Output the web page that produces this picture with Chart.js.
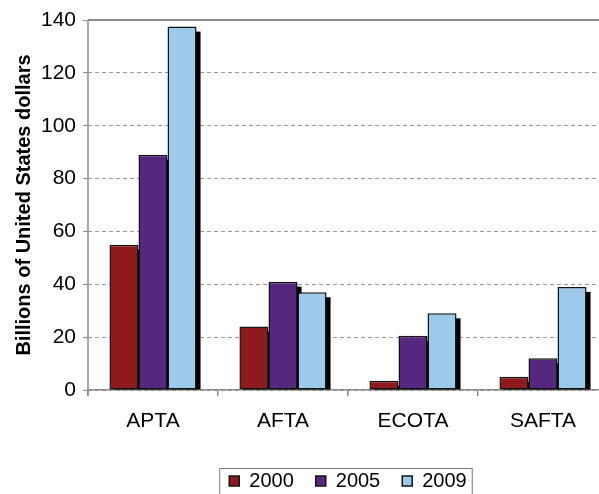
<!DOCTYPE html>
<html>
<head>
<meta charset="utf-8">
<script src="https://cdn.jsdelivr.net/npm/chart.js@4.4.3/dist/chart.umd.min.js"></script>
<style>
  html, body { margin: 0; padding: 0; overflow: hidden; background: #fff; }
  #wrap { position: absolute; left: 0; top: 0; width: 610px; height: 501px; }
</style>
</head>
<body>
<div id="wrap"><canvas id="chart" width="610" height="501"></canvas></div>
<script>
// Trade agreements and years
const categories = ['APTA', 'AFTA', 'ECOTA', 'SAFTA'];
const years = ['2000', '2005', '2009'];

// Billions of US dollars
const values2000 = [55, 24, 3.5, 5];
const values2005 = [89, 41, 20.5, 12];
const values2009 = [137.5, 37, 29, 39];

const yMin = 0;
const yMax = 140;
const yStep = 20;

const colors = ['#8f1a1e', '#55277f', '#9dc9ea'];
const axisGray = '#8c8c8c';

// black drop shadow behind every bar
const barShadow = {
  id: 'barShadow',
  beforeDatasetsDraw(chart) {
    const ctx = chart.ctx;
    ctx.save();
    ctx.fillStyle = '#000';
    chart.data.datasets.forEach((ds, i) => {
      chart.getDatasetMeta(i).data.forEach(bar => {
        const p = bar.getProps(['x', 'y', 'base', 'width'], true);
        const h = p.base - p.y - 5;
        if (h > 0) ctx.fillRect(p.x - p.width / 2 + 4, p.y + 5, p.width, h);
      });
    });
    ctx.restore();
  }
};

// solid plot edges (top + left) and the box around the legend
const frame = {
  id: 'frame',
  afterDraw(chart) {
    const ctx = chart.ctx;
    const a = chart.chartArea;
    ctx.save();
    ctx.setLineDash([]);
    ctx.strokeStyle = axisGray;
    ctx.lineWidth = 2;
    ctx.beginPath();
    ctx.moveTo(a.left, a.top);
    ctx.lineTo(a.right, a.top);
    ctx.stroke();
    ctx.lineWidth = 1.5;
    ctx.beginPath();
    ctx.moveTo(a.left, a.top);
    ctx.lineTo(a.left, a.bottom + 6);
    ctx.stroke();

    const boxes = chart.legend.legendHitBoxes;
    if (boxes && boxes.length) {
      const first = boxes[0];
      const last = boxes[boxes.length - 1];
      const left = first.left - 10;
      const right = last.left + last.width + 5;
      const top = first.top + first.height / 2 - 13;
      ctx.lineWidth = 1;
      ctx.strokeStyle = '#7a7a7a';
      ctx.strokeRect(left + 0.5, top + 0.5, right - left, 60);
    }
    ctx.restore();
  }
};

new Chart(document.getElementById('chart'), {
  type: 'bar',
  data: {
    labels: categories,
    datasets: [
      { label: years[0], data: values2000, backgroundColor: colors[0] },
      { label: years[1], data: values2005, backgroundColor: colors[1] },
      { label: years[2], data: values2009, backgroundColor: colors[2] }
    ].map(d => Object.assign(d, {
      borderColor: '#141414',
      borderWidth: 1.5,
      borderSkipped: false,
      barPercentage: 1.0,
      categoryPercentage: 0.67
    }))
  },
  options: {
    responsive: false,
    devicePixelRatio: 1,
    animation: false,
    layout: { padding: { left: 0, right: 2, top: 20, bottom: 0 } },
    plugins: {
      tooltip: { enabled: false },
      legend: {
        position: 'bottom',
        fullSize: false,
        labels: {
          boxWidth: 10,
          boxHeight: 10,
          padding: 22,
          color: '#000',
          font: { family: 'Liberation Sans, Arial, sans-serif', size: 20 }
        }
      }
    },
    scales: {
      x: {
        afterFit(scale) { scale.height = 59; },
        grid: {
          offset: true,
          drawOnChartArea: false,
          drawTicks: true,
          tickLength: 6,
          color: axisGray,
          lineWidth: 1.5
        },
        border: { display: true, color: axisGray, width: 1.5 },
        ticks: {
          padding: 13,
          color: '#000',
          font: { family: 'Liberation Sans, Arial, sans-serif', size: 21 }
        }
      },
      y: {
        min: yMin,
        max: yMax,
        afterFit(scale) { scale.width = 88; },
        grid: {
          color: '#9a9a9a',
          tickBorderDash: [],
          tickColor: axisGray,
          tickLength: 5,
          lineWidth: 1
        },
        border: { display: false, dash: [4, 3] },
        ticks: {
          stepSize: yStep,
          padding: 7,
          color: '#000',
          font: { family: 'Liberation Sans, Arial, sans-serif', size: 21 }
        },
        title: {
          display: true,
          text: 'Billions of United States dollars',
          color: '#000',
          padding: { top: 12, bottom: 0 },
          font: { family: 'Liberation Sans, Arial, sans-serif', size: 20, weight: 'bold' }
        }
      }
    }
  },
  plugins: [barShadow, frame]
});
</script>
</body>
</html>
